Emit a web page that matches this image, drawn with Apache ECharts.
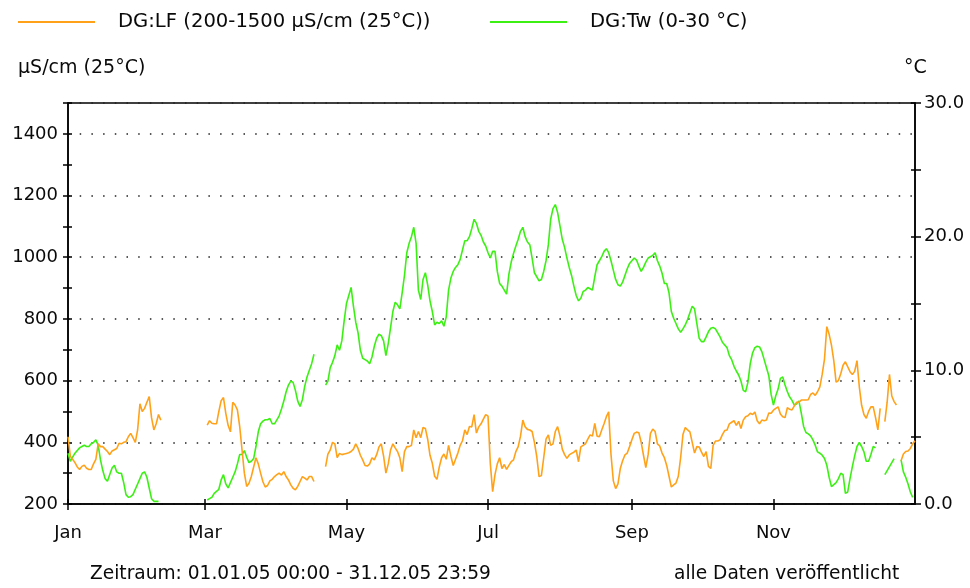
<!DOCTYPE html>
<html>
<head>
<meta charset="utf-8">
<script src="https://cdn.jsdelivr.net/npm/echarts@6.0.0/dist/echarts.min.js"></script>
<style>
  html, body { margin: 0; padding: 0; background: #fff; }
  #chart { width: 970px; height: 588px; }
</style>
</head>
<body>
<div id="chart"></div>
<script>
// Tagesmittel 2005, Leitfähigkeit (µS/cm) und Wassertemperatur (°C)
// jede Liste beginnt an einem Tag des Jahres (0 = 01.01.05), Lücken = keine Daten
const lfJan = [418, 355, 345, 334, 320, 312, 322, 326, 316, 312, 312, 330, 345, 395, 386, 386, 378, 370, 360, 372, 376, 380, 397, 395, 400, 402, 418, 429, 415, 400, 440, 525, 500, 510, 530, 548, 480, 440, 460, 490, 472];
const lfMar = [456, 470, 462, 460, 460, 500, 535, 545, 494, 455, 434, 530, 521, 505, 451, 375, 300, 257, 267, 289, 320, 350, 330, 300, 272, 255, 260, 275, 280, 289, 295, 300, 294, 305, 289, 278, 262, 251, 246, 257, 273, 289, 284, 278, 289, 289, 273];
const lfMay = [321, 362, 375, 400, 395, 350, 364, 360, 362, 364, 366, 370, 378, 395, 380, 358, 343, 325, 323, 330, 350, 343, 360, 385, 395, 355, 300, 330, 375, 395, 382, 370, 350, 305, 370, 386, 386, 390, 440, 415, 435, 415, 448, 445, 410, 358, 332, 290, 280, 320, 350, 362, 345, 390, 355, 325, 345, 365, 390, 405, 440, 425, 451, 450, 490, 430, 450, 460, 475, 490, 485];
const lfJul = [330, 240, 295, 330, 350, 315, 328, 312, 325, 337, 343, 370, 386, 420, 472, 450, 442, 440, 435, 400, 354, 289, 292, 350, 410, 424, 390, 395, 435, 451, 420, 378, 360, 348, 359, 364, 368, 375, 337, 385, 390, 395, 410, 424, 420, 461, 420, 418, 440, 460, 483, 499, 360, 275, 250, 265, 315, 340, 359, 365, 386, 408, 429];
const lfSep = [433, 431, 400, 358, 318, 360, 429, 443, 435, 395, 388, 365, 350, 325, 290, 255, 262, 268, 290, 350, 425, 448, 440, 434, 400, 365, 386, 385, 368, 354, 370, 322, 315, 390, 404, 404, 408, 425, 438, 440, 460, 465, 470, 455, 468, 445, 472, 483, 486, 494, 490, 498, 470, 460, 472, 470, 472, 495, 494, 504, 510, 515];
const lfNov = [492, 483, 480, 512, 507, 505, 518, 530, 530, 537, 537, 537, 538, 555, 560, 552, 564, 580, 620, 670, 775, 750, 715, 665, 595, 600, 622, 650, 661, 645, 629, 620, 630, 665, 580, 520, 490, 478, 500, 515, 515, 480, 440, 510];
const lfDec1 = [467, 530, 620, 550, 532, 521];
const lfDec2 = [340, 362, 370, 372, 380, 395, 405];

const twJan = [3.8, 3.2, 3.5, 3.8, 4.0, 4.2, 4.3, 4.4, 4.3, 4.3, 4.5, 4.6, 4.8, 4.4, 3.3, 2.5, 1.9, 1.7, 2.2, 2.7, 2.9, 2.4, 2.3, 2.3, 1.6, 0.7, 0.5, 0.55, 0.7, 1.1, 1.5, 1.9, 2.3, 2.4, 2.0, 1.2, 0.4, 0.2, 0.2, 0.2];
const twMar = [0.3, 0.4, 0.5, 0.8, 0.95, 1.1, 1.8, 2.2, 1.5, 1.2, 1.6, 2.0, 2.4, 3.0, 3.7, 3.7, 4.0, 3.5, 3.1, 3.2, 3.4, 4.3, 5.4, 6.0, 6.2, 6.3, 6.3, 6.4, 6.0, 6.0, 6.3, 6.6, 7.1, 7.7, 8.4, 8.9, 9.2, 9.1, 8.5, 7.7, 7.3, 7.8, 8.8, 9.5, 10.0, 10.5, 11.2];
const twMay = [8.9, 9.2, 10.2, 10.6, 11.1, 11.9, 11.5, 12.2, 13.7, 15.0, 15.6, 16.2, 14.8, 13.6, 12.8, 11.5, 10.9, 10.8, 10.7, 10.5, 11.0, 11.8, 12.4, 12.7, 12.6, 12.2, 11.1, 12.0, 13.2, 14.4, 15.1, 14.9, 14.6, 15.8, 17.1, 18.8, 19.5, 20.0, 20.7, 19.5, 16.0, 15.3, 16.8, 17.3, 16.4, 15.2, 14.4, 13.4, 13.6, 13.5, 13.7, 13.3, 14.0, 16.0, 16.9, 17.4, 17.7, 17.9, 18.3, 19.0, 19.7, 19.7, 20.0, 20.6, 21.3, 21.0, 20.4, 20.1, 19.6, 19.3, 18.8, 18.4, 18.9];
const twJul = [18.9, 17.4, 16.5, 16.3, 16.0, 15.7, 17.2, 18.1, 18.75, 19.3, 19.8, 20.4, 20.7, 20.0, 19.6, 19.4, 18.4, 17.3, 17.0, 16.7, 16.8, 17.4, 18.2, 19.4, 21.3, 22.1, 22.4, 21.8, 20.8, 19.8, 19.2, 18.4, 17.7, 17.1, 16.3, 15.6, 15.2, 15.4, 15.9, 16.0, 16.2, 16.1, 16.0, 17.0, 17.9, 18.2, 18.5, 18.9, 19.1, 18.8, 18.2, 17.5, 16.8, 16.4, 16.3, 16.6, 17.1, 17.6, 18.0, 18.2, 18.4];
const twSep = [18.25, 17.8, 17.4, 17.7, 18.1, 18.4, 18.5, 18.6, 18.8, 18.2, 17.8, 17.26, 16.5, 16.5, 15.8, 14.4, 13.9, 13.5, 13.1, 12.85, 13.1, 13.4, 13.8, 14.3, 14.8, 14.6, 13.5, 12.4, 12.15, 12.15, 12.5, 12.9, 13.15, 13.2, 13.1, 12.8, 12.5, 12.1, 11.9, 11.7, 11.1, 10.8, 10.3, 9.95, 9.65, 9.2, 8.5, 8.4, 9.1, 10.5, 11.3, 11.7, 11.8, 11.75, 11.4, 10.8, 10.2, 9.6, 8.2, 7.4, 8.1, 8.6];
const twNov = [9.4, 9.5, 8.9, 8.4, 8.0, 7.75, 7.4, 7.5, 7.7, 6.8, 5.8, 5.35, 5.25, 5.1, 4.8, 4.4, 3.9, 3.8, 3.65, 3.4, 2.9, 2.0, 1.3, 1.45, 1.6, 1.9, 2.3, 2.2, 0.8, 0.9, 1.9, 2.8, 3.6, 4.3, 4.6, 4.3, 3.9, 3.2, 3.2, 3.7, 4.3, 4.2];
const twDec1 = [2.2, 2.5, 2.8, 3.1, 3.4];
const twDec2 = [3.3, 2.4, 2.0, 1.5, 0.9, 0.5];

// erster Tag jeder Liste
const lfStarts = [0, 60, 111, 182, 245, 307, 352, 359];
const twStarts = [0, 60, 111, 184, 245, 307, 352, 359];

const monthNames = ["Jan", "Feb", "Mar", "Apr", "May", "Jun", "Jul", "Aug", "Sep", "Oct", "Nov", "Dec"];
const labelMonths = [0, 2, 4, 6, 8, 10];
const nDays = 366; // 01.01.05 bis 01.01.06 (rechter Rand)

const days = [];
for (let i = 0; i < nDays; i++) {
  days.push(new Date(Date.UTC(2005, 0, 1) + i * 86400000).toISOString().slice(0, 10));
}

function build(parts, starts) {
  const out = new Array(nDays).fill(null);
  parts.forEach((vals, k) => vals.forEach((v, i) => { out[starts[k] + i] = v; }));
  return out;
}
const lf = build([lfJan, lfMar, lfMay, lfJul, lfSep, lfNov, lfDec1, lfDec2], lfStarts);
const tw = build([twJan, twMar, twMay, twJul, twSep, twNov, twDec1, twDec2], twStarts);

function isLabelDay(index, value) {
  const d = new Date(value + "T00:00:00Z");
  return d.getUTCFullYear() === 2005 && d.getUTCDate() === 1 && labelMonths.includes(d.getUTCMonth());
}

const font = "DejaVu Sans";
function label(text, x, y, size) {
  return {
    type: "text", x: x, y: y,
    style: { text: text, verticalAlign: "middle", fontFamily: font, fontSize: size, fill: "#0a0a0a" },
  };
}
const chart = echarts.init(document.getElementById("chart"));

const option = {
  animation: false,
  backgroundColor: "#fff",
  grid: { left: 68, right: 55, top: 103, bottom: 84, show: true, borderColor: "#000", borderWidth: 1.5, containLabel: false, outerBoundsMode: "none" },
  xAxis: [
    {
      type: "category", data: days, boundaryGap: false,
      axisLine: { onZero: false, lineStyle: { color: "#000", width: 1.5 } },
      axisTick: { interval: isLabelDay, length: 6, lineStyle: { color: "#000", width: 1.5 } },
      axisLabel: {
        interval: isLabelDay, margin: 20, color: "#0a0a0a", fontFamily: font, fontSize: 18,
        formatter: (v) => monthNames[new Date(v + "T00:00:00Z").getUTCMonth()],
      },
      splitLine: { show: false },
    },
    {
      type: "category", data: days, boundaryGap: false, position: "bottom",
      axisLine: { show: false, onZero: false },
      axisTick: { inside: true, interval: isLabelDay, length: 5, lineStyle: { color: "#000", width: 1.5 } },
      axisLabel: { show: false }, splitLine: { show: false },
    },
  ],
  yAxis: [
    {
      type: "value", position: "left", min: 200, max: 1500, interval: 100,
      axisLine: { show: true, lineStyle: { color: "#000", width: 1.5 } },
      axisTick: { show: true, length: 5, lineStyle: { color: "#000", width: 1.5 } },
      axisLabel: {
        margin: 10, color: "#0a0a0a", fontFamily: font, fontSize: 18,
        formatter: (v) => (v % 200 === 0 && v < 1500 ? String(v) : ""),
      },
      splitLine: { show: false },
    },
    {
      type: "value", position: "right", min: 0, max: 30, interval: 5,
      axisLine: { show: true, lineStyle: { color: "#000", width: 1.5 } },
      axisTick: { show: true, length: 6, lineStyle: { color: "#000", width: 1.5 } },
      axisLabel: {
        margin: 9, color: "#0a0a0a", fontFamily: font, fontSize: 18,
        formatter: (v) => (v % 10 === 0 ? v.toFixed(1) : ""),
      },
      splitLine: { show: false },
    },
    {
      type: "value", position: "left", min: 200, max: 1500, interval: 100,
      axisLine: { show: false }, axisLabel: { show: false }, splitLine: { show: false },
      axisTick: { show: true, inside: true, length: 4, lineStyle: { color: "#000", width: 1.5 } },
    },
    {
      type: "value", position: "right", min: 0, max: 30, interval: 5,
      axisLine: { show: false }, axisLabel: { show: false }, splitLine: { show: false },
      axisTick: { show: true, inside: true, length: 4, lineStyle: { color: "#000", width: 1.5 } },
    },
    {
      // punktiertes Raster
      type: "value", position: "left", min: 200, max: 1500, interval: 200,
      axisLine: { show: false }, axisTick: { show: false }, axisLabel: { show: false },
      splitLine: { show: true, lineStyle: { color: "#222", width: 1.5, type: [1.5, 10.2] } },
    },
  ],
  series: [
    {
      name: "DG:LF (200-1500 µS/cm (25°C))", type: "line", xAxisIndex: 0, yAxisIndex: 0,
      data: lf, showSymbol: false, symbol: "none", connectNulls: false,
      lineStyle: { color: "#ffa21a", width: 1.6 }, itemStyle: { color: "#ffa21a" }, z: 3,
    },
    {
      name: "DG:Tw (0-30 °C)", type: "line", xAxisIndex: 0, yAxisIndex: 1,
      data: tw, showSymbol: false, symbol: "none", connectNulls: false,
      lineStyle: { color: "#3cf014", width: 1.6 }, itemStyle: { color: "#3cf014" }, z: 2,
    },
  ],
  graphic: [
    { type: "line", shape: { x1: 18, y1: 22, x2: 95, y2: 22 }, style: { stroke: "#ffa21a", lineWidth: 2 } },
    label("DG:LF (200-1500 µS/cm (25°C))", 118, 22, 19.6),
    { type: "line", shape: { x1: 490, y1: 22, x2: 567, y2: 22 }, style: { stroke: "#3cf014", lineWidth: 2 } },
    label("DG:Tw (0-30 °C)", 590, 22, 19.6),
    label("µS/cm (25°C)", 18, 68, 19),
    label("°C", 904, 68, 19),
    label("Zeitraum: 01.01.05 00:00 - 31.12.05 23:59", 90, 574, 18.6),
    label("alle Daten veröffentlicht", 674, 574, 18.6),
  ],
};

chart.setOption(option);
</script>
</body>
</html>
